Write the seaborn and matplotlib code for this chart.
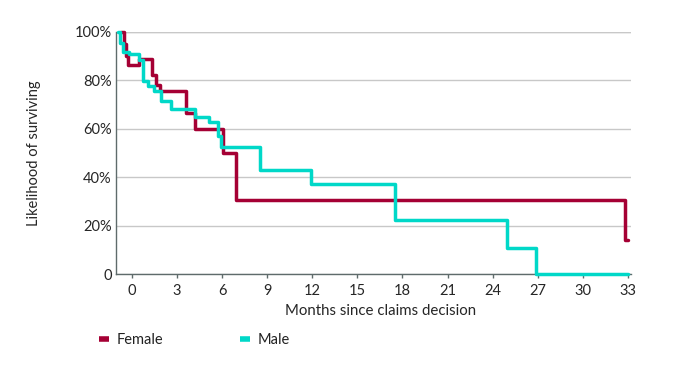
import pandas as pd
import numpy as np
import seaborn as sns
import matplotlib.pyplot as plt
from matplotlib.lines import Line2D

# survival curves (months, % surviving)
female_months = [-0.73, -0.55, -0.4, -0.25, 0.44, 1.33, 1.6, 1.87, 3.6, 4.2, 6.04, 6.93, 32.8, 33.0]
female_surv = [100, 95, 90, 86.5, 88.8, 82, 78, 75.7, 66.5, 60.1, 50.2, 30.5, 14.1, 14.1]

male_months = [-0.96, -0.8, -0.62, -0.18, 0.49, 0.71, 1.04, 1.49, 1.93, 2.6, 4.22,
               5.15, 5.7, 5.95, 8.53, 11.9, 17.5, 24.97, 26.9, 33.0]
male_surv = [100, 95.4, 91.7, 90.9, 88.5, 79.6, 77.5, 75.4, 71.3, 68.1, 64.8,
             62.8, 57, 52.3, 43.0, 37.2, 22.3, 10.9, 0, 0]

x_ticks = [0, 3, 6, 9, 12, 15, 18, 21, 24, 27, 30, 33]
y_ticks = [0, 20, 40, 60, 80, 100]
y_labels = ["0", "20%", "40%", "60%", "80%", "100%"]

colors = {"Female": "#a50034", "Male": "#00d8c8"}

df = pd.concat([
    pd.DataFrame({"month": female_months, "surv": female_surv, "sex": "Female"}),
    pd.DataFrame({"month": male_months, "surv": male_surv, "sex": "Male"}),
])

sns.set_style("white")
plt.rcParams["font.family"] = ["Lato", "DejaVu Sans"]
plt.rcParams["text.color"] = "#222222"

fig = plt.figure(figsize=(6.74, 3.75), dpi=100)
ax = fig.add_axes([0.172, 0.269, 0.764, 0.646])

sns.lineplot(data=df, x="month", y="surv", hue="sex", palette=colors,
             drawstyle="steps-post", linewidth=2.5, estimator=None,
             legend=False, ax=ax, clip_on=False, zorder=3)

ax.set_xlim(-1.07, 33.2)
ax.set_ylim(0, 100)
ax.set_xticks(x_ticks)
ax.set_yticks(y_ticks)
ax.set_yticklabels(y_labels)
ax.grid(axis="y", color="#c8c8c8", linewidth=1)
ax.axhline(100, color="#c8c8c8", linewidth=1, zorder=1)

for s in ["top", "right"]:
    ax.spines[s].set_visible(False)
for s in ["left", "bottom"]:
    ax.spines[s].set_color("#5f6b6b")
    ax.spines[s].set_linewidth(1)

ax.tick_params(axis="x", direction="out", length=3, width=1, color="#5f6b6b",
               labelsize=10.5, pad=4, bottom=True)
ax.tick_params(axis="y", length=0, labelsize=10.5, pad=3)

ax.set_xlabel("Months since claims decision", fontsize=10.8, labelpad=5.5)
ax.xaxis.set_label_coords(0.513, -0.125)
ax.set_ylabel("Likelihood of surviving", fontsize=10.5, labelpad=24)

handles = [Line2D([0], [0], color=colors[k], linewidth=4, solid_capstyle="butt") for k in colors]
fig.legend(handles, list(colors), loc="center left", bbox_to_anchor=(0.127, 0.093),
           ncol=2, frameon=False, handlelength=0.7, handletextpad=0.5,
           columnspacing=5.3, fontsize=10.5)

fig.savefig("out.png", dpi=100)
